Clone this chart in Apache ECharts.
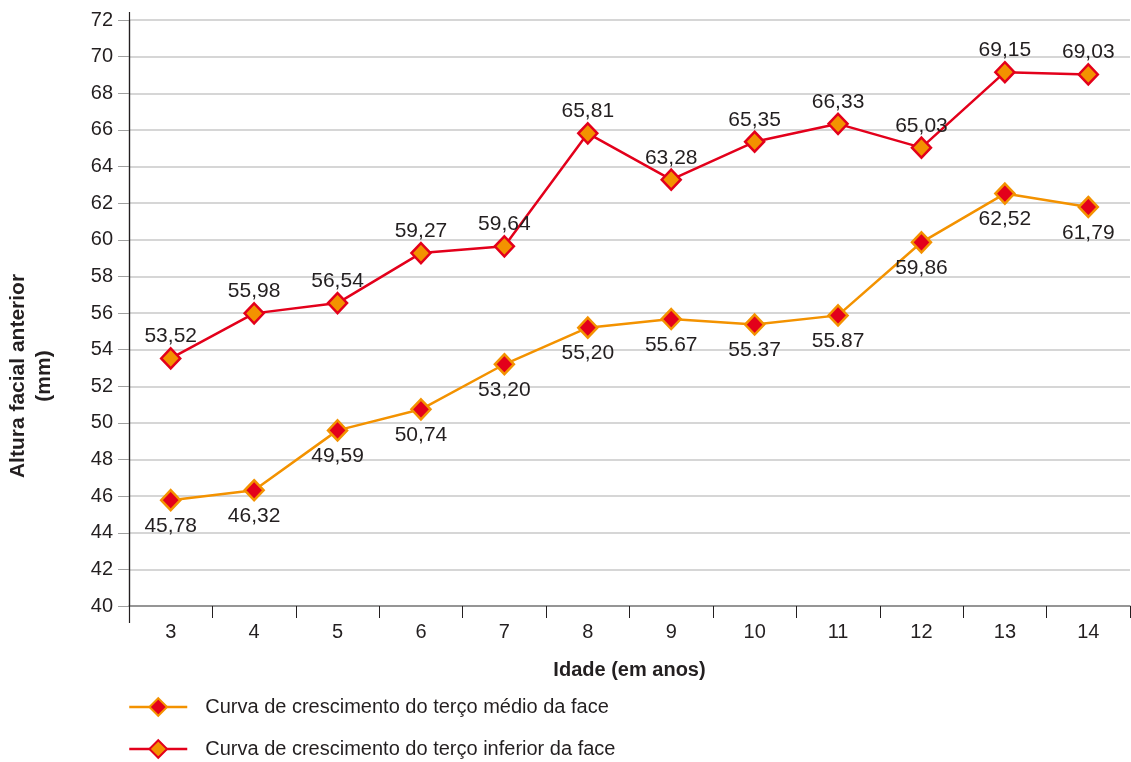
<!DOCTYPE html>
<html>
<head>
<meta charset="utf-8">
<style>
  html, body { margin: 0; padding: 0; background: #fff; }
  #chart-container { width: 1131px; height: 762px; }
</style>
<script src="https://cdn.jsdelivr.net/npm/echarts@6/dist/echarts.min.js"></script>
</head>
<body>
<div id="chart-container"></div>
<script>
// Idades (categorias do eixo x)
const idades = ['3', '4', '5', '6', '7', '8', '9', '10', '11', '12', '13', '14'];

// Terço médio da face
const tercoMedio = [45.78, 46.32, 49.59, 50.74, 53.20, 55.20, 55.67, 55.37, 55.87, 59.86, 62.52, 61.79];
const rotulosMedio = ['45,78', '46,32', '49,59', '50,74', '53,20', '55,20', '55.67', '55.37', '55.87', '59,86', '62,52', '61,79'];

// Terço inferior da face
const tercoInferior = [53.52, 55.98, 56.54, 59.27, 59.64, 65.81, 63.28, 65.35, 66.33, 65.03, 69.15, 69.03];
const rotulosInferior = ['53,52', '55,98', '56,54', '59,27', '59,64', '65,81', '63,28', '65,35', '66,33', '65,03', '69,15', '69,03'];

const nomeMedio = 'Curva de crescimento do terço médio da face';
const nomeInferior = 'Curva de crescimento do terço inferior da face';

const LARANJA = '#f39200';
const VERMELHO = '#e3001b';
const TEXTO = '#231f20';
const fonte = 'Liberation Sans, Arial, sans-serif';

let myChart = echarts.init(document.getElementById('chart-container'), null, { renderer: 'canvas' });

// uma legenda por linha (empilhadas)
function legenda(nome, topo) {
  return {
    left: 123,
    top: topo,
    itemWidth: 58,
    itemHeight: 22,
    lineStyle: { width: 2.5 },
    textStyle: { fontSize: 20, color: TEXTO, fontFamily: fonte, padding: [0, 0, 0, 13] },
    data: [nome]
  };
}

const opciones = {
  animation: false,
  textStyle: { fontFamily: fonte },
  grid: { left: 129, right: 1, top: 20, bottom: 156 },
  legend: [legenda(nomeMedio, 692), legenda(nomeInferior, 734)],
  xAxis: {
    type: 'category',
    data: idades,
    boundaryGap: true,
    name: 'Idade (em anos)',
    nameLocation: 'middle',
    nameGap: 54,
    nameTextStyle: { fontSize: 20, fontWeight: 'bold', color: TEXTO },
    axisLine: { lineStyle: { color: '#808080', width: 1.5 } },
    axisTick: { show: true, length: 12, lineStyle: { color: TEXTO } },
    axisLabel: { fontSize: 20, color: TEXTO, margin: 16 },
    splitLine: { show: false }
  },
  yAxis: {
    type: 'value',
    min: 40,
    max: 72,
    interval: 2,
    axisLine: { show: true, lineStyle: { color: TEXTO, width: 1.2 } },
    axisTick: { show: true, length: 11, lineStyle: { color: '#a0a0a0' } },
    axisLabel: { fontSize: 20, color: TEXTO, margin: 16 },
    splitLine: { lineStyle: { color: '#c8c8c8', width: 1.5 } }
  },
  graphic: [
    {
      type: 'text',
      x: 31,
      y: 376,
      rotation: Math.PI / 2,
      style: {
        text: 'Altura facial anterior\n(mm)',
        fontSize: 21,
        fontWeight: 'bold',
        fontFamily: fonte,
        fill: TEXTO,
        align: 'center',
        verticalAlign: 'middle',
        lineHeight: 26
      }
    },
    {
      // prolongamento do eixo y acima e abaixo da área do gráfico
      type: 'line',
      shape: { x1: 129.5, y1: 12, x2: 129.5, y2: 623 },
      style: { stroke: TEXTO, lineWidth: 1.2 },
      z: 10
    }
  ],
  series: [
    {
      name: nomeMedio,
      type: 'line',
      data: tercoMedio,
      symbol: 'diamond',
      symbolSize: [19, 20],
      lineStyle: { color: LARANJA, width: 2.5 },
      itemStyle: { color: VERMELHO, borderColor: LARANJA, borderWidth: 2.5 },
      label: {
        show: true,
        position: 'bottom',
        distance: 4,
        fontSize: 21,
        color: TEXTO,
        formatter: (p) => rotulosMedio[p.dataIndex]
      }
    },
    {
      name: nomeInferior,
      type: 'line',
      data: tercoInferior,
      symbol: 'diamond',
      symbolSize: [19, 20],
      lineStyle: { color: VERMELHO, width: 2.5 },
      itemStyle: { color: LARANJA, borderColor: VERMELHO, borderWidth: 2.5 },
      label: {
        show: true,
        position: 'top',
        distance: 0,
        fontSize: 21,
        color: TEXTO,
        formatter: (p) => rotulosInferior[p.dataIndex]
      }
    }
  ]
};

myChart.setOption(opciones);
window.addEventListener('resize', myChart.resize);
</script>
</body>
</html>
